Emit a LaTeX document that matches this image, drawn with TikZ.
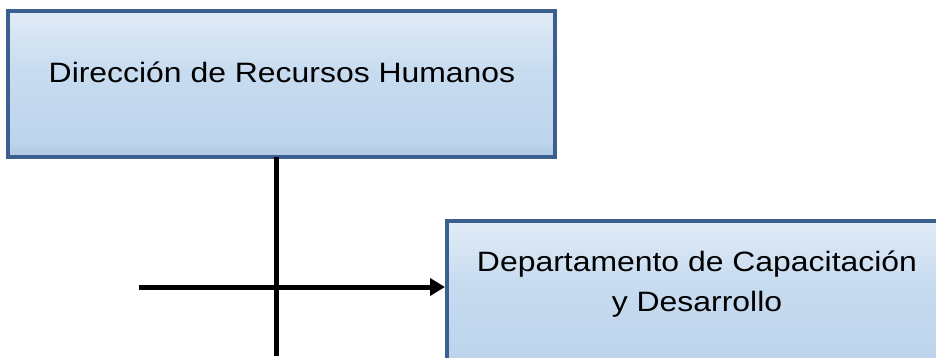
\documentclass[tikz,border=0pt]{standalone}
\usepackage{fontspec}
\setmainfont{Liberation Sans}
\usepackage{tikz}
\usetikzlibrary{arrows.meta,positioning}
\definecolor{rhEdge}{HTML}{3B5F8E}
\definecolor{rhTop}{HTML}{F1F5FB}
\definecolor{rhMid}{HTML}{C8DCF0}
\definecolor{rhLow}{HTML}{BDD4EC}
\definecolor{rhBand}{HTML}{A9BFDD}
\definecolor{rhBottom}{HTML}{BCCFE7}
\pgfdeclareverticalshading{rhfill}{100bp}{color(0bp)=(rhBottom); color(12bp)=(rhBottom); color(22bp)=(rhBand); color(30bp)=(rhLow); color(55bp)=(rhMid); color(88bp)=(rhTop); color(100bp)=(rhTop)}
\tikzset{
  rh diagram/.style={x=1pt, y=-1pt, line cap=butt, line join=miter},
  rh box/.style={draw=rhEdge, shading=rhfill, line width=4pt, inner sep=0pt},
  rh text/.style={font=\fontsize{28}{40}\selectfont, align=center, text=black,
    inner sep=0pt, anchor=base, xscale=1.14, transform shape},
  rh line/.style={draw=black, line width=5pt},
  rh arrow/.style={rh line, -{Triangle[length=15pt, width=17pt]}}
}
\begin{document}
\begin{tikzpicture}[rh diagram]
\useasboundingbox (0,0) rectangle (936,358);
\clip (0,0) rectangle (936,358);
% boxes
\node[rh box, minimum width=547pt, minimum height=146pt] (dir) at (281,84) {};
\node[rh text] (dirlabel) at (282,83) {Dirección de Recursos Humanos};
\node[rh box, minimum width=500pt, minimum height=150pt] (dep) at (697,296) {};
\node[rh text] (deplabel) at (697,311) {Departamento de Capacitación\\y Desarrollo};
% connectors
\coordinate (vtop) at (276,157);
\coordinate (vend) at (276,356);
\coordinate (hstart) at (139,287);
\draw[rh line] (vtop) -- (vend);
\draw[rh arrow] (hstart) -- (hstart -| dep.west);
\end{tikzpicture}
\end{document}
